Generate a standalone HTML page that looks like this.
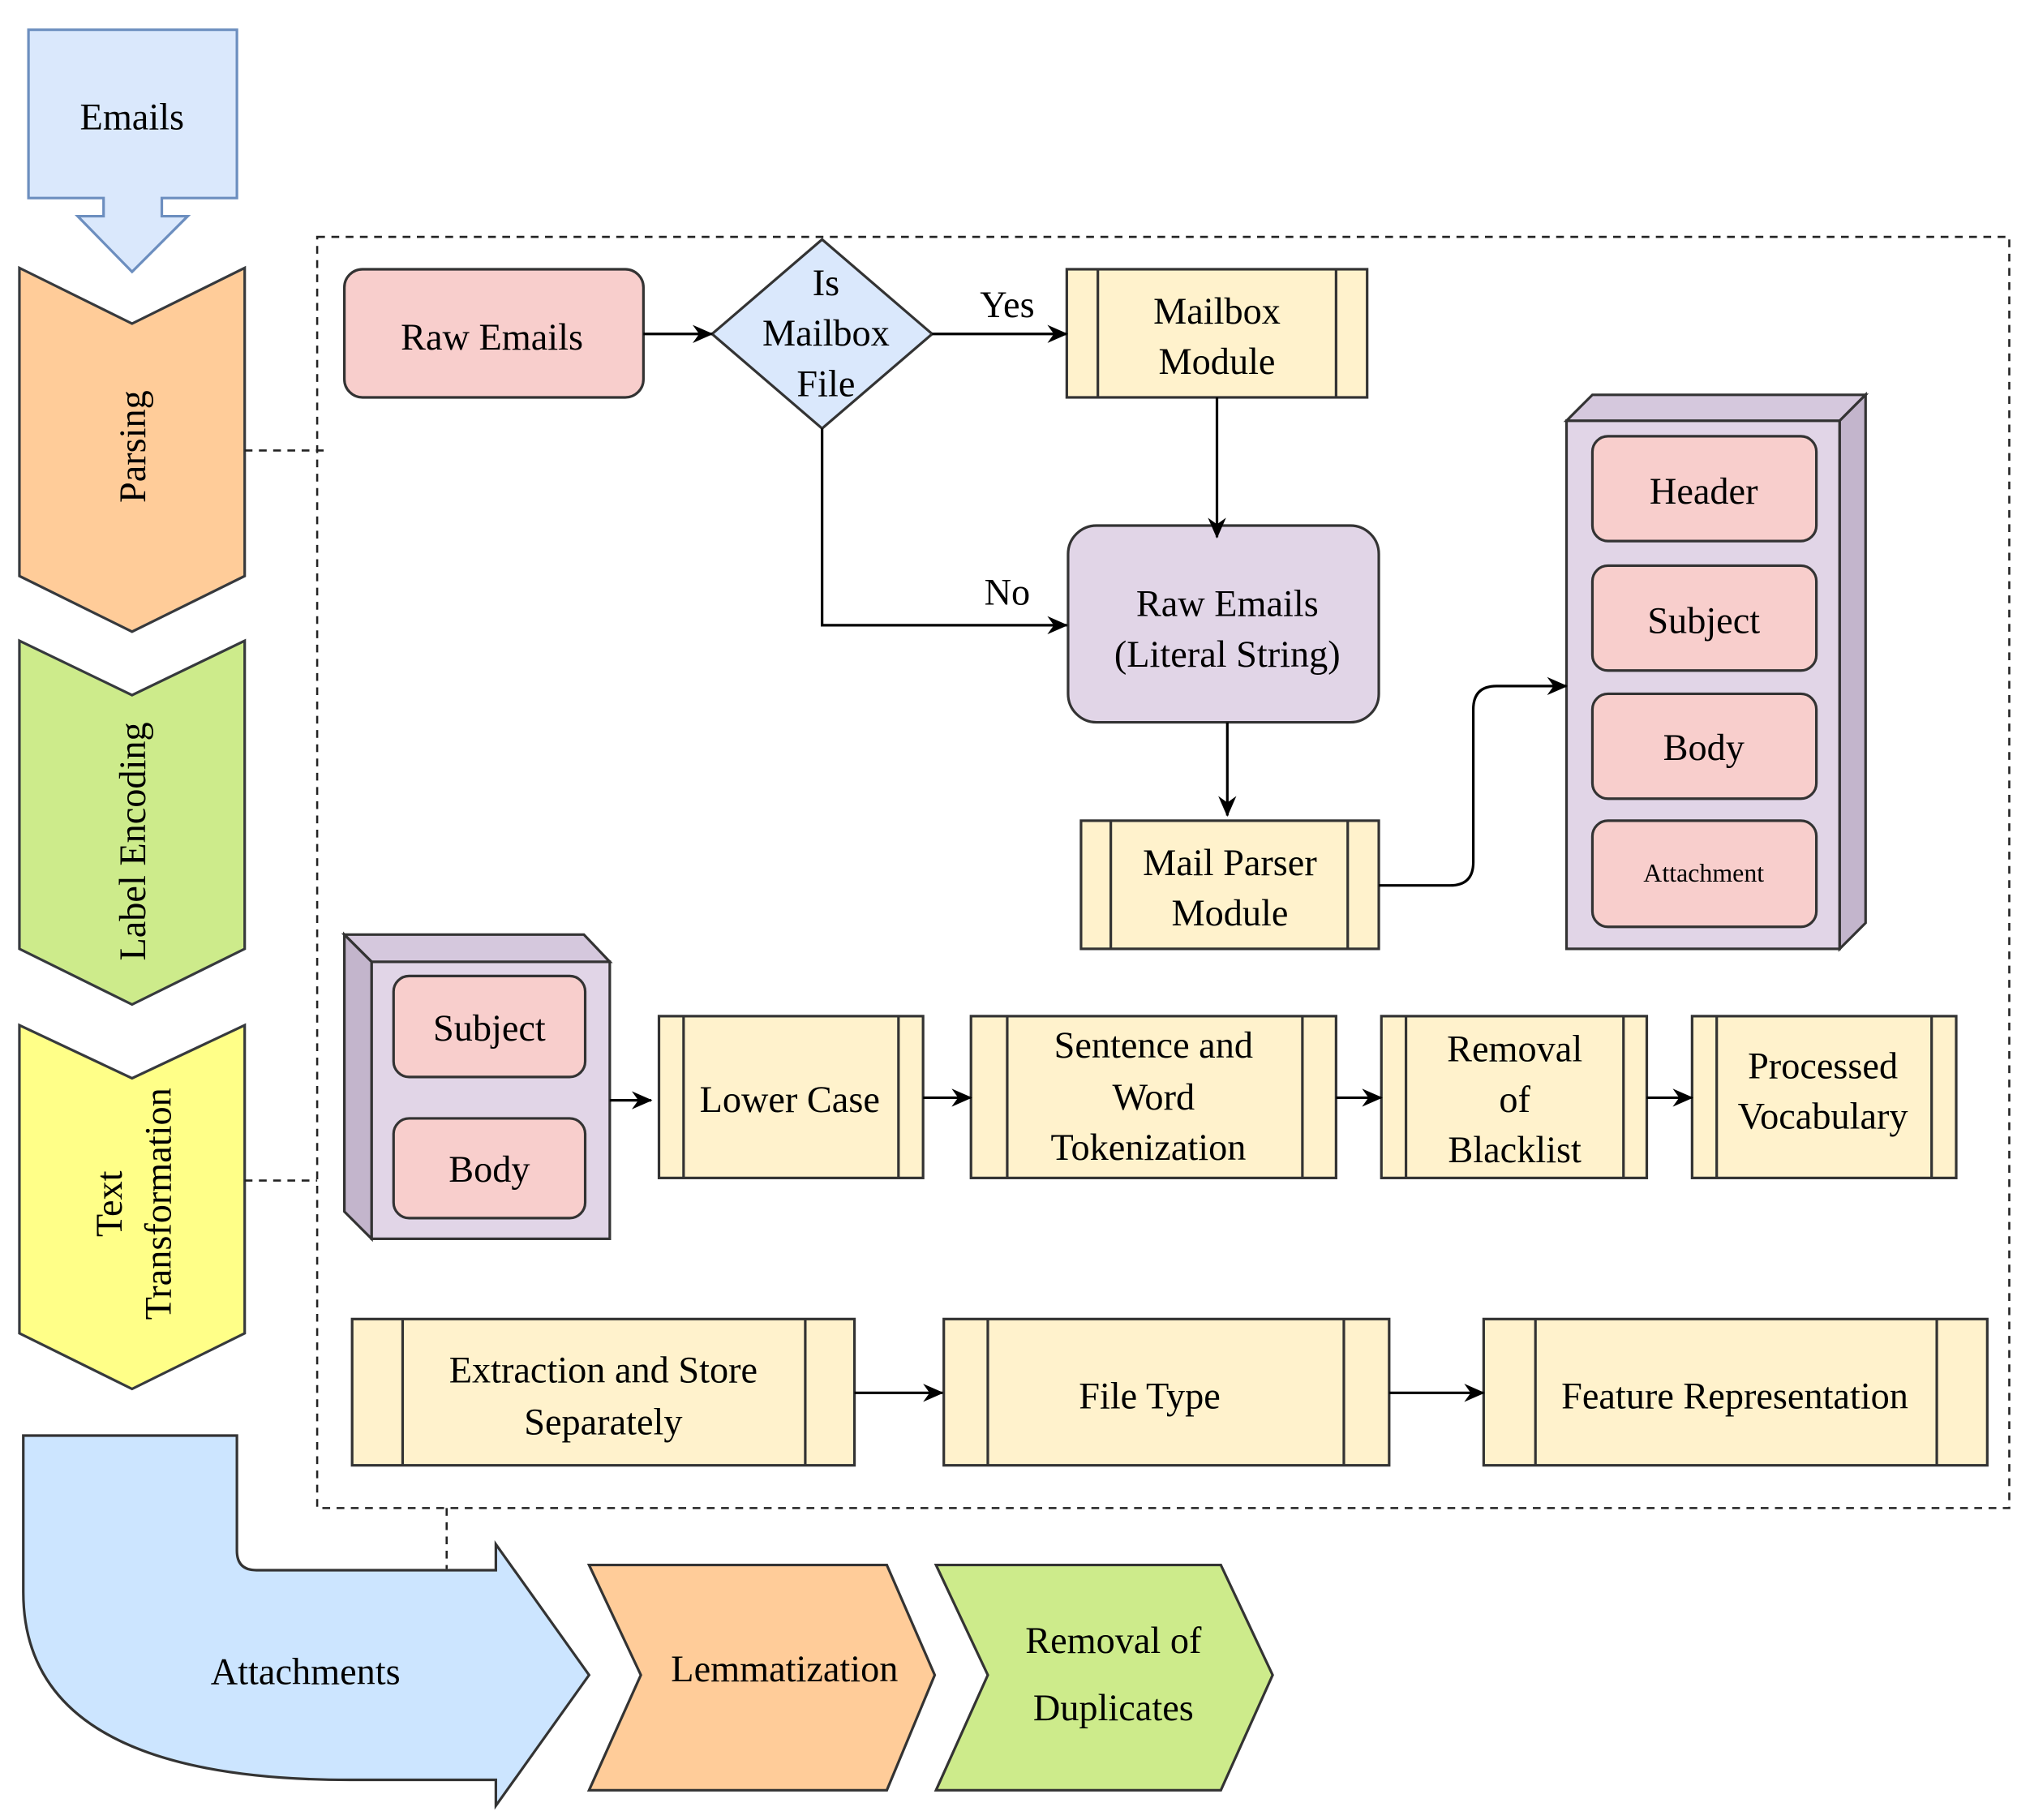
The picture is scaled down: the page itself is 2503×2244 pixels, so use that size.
<!DOCTYPE html>
<html><head><meta charset="utf-8"><style>html,body{margin:0;padding:0;background:#fff}svg{display:block}svg text{font-family:"Liberation Serif","DejaVu Serif",serif}</style></head>
<body>
<svg width="2503" height="2244" viewBox="0 0 1568 1406" preserveAspectRatio="none" xmlns="http://www.w3.org/2000/svg" font-family="'Liberation Serif', serif" font-size="29" text-anchor="middle">
<defs><marker id="a" markerWidth="16" markerHeight="14" refX="15" refY="7" orient="auto" markerUnits="userSpaceOnUse"><path d="M0,0 L16,7 L0,14 L5,7 Z" fill="#000"/></marker></defs>
<g stroke="#36393d" stroke-width="2">
<path d="M22,23 H183 V153 H125 V167 H145 L102,210 L60,167 H80 V153 H22 Z" fill="#dae8fc" stroke="#6c8ebf"/>
<path d="M15,207 L102,250 L189,207 V445 L102,488 L15,445 Z" fill="#ffcc99"/>
<path d="M15,495 L102,537 L189,495 V733 L102,776 L15,733 Z" fill="#cdeb8b"/>
<path d="M15,792 L102,833 L189,792 V1030 L102,1073 L15,1030 Z" fill="#ffff88"/>
</g>
<g fill="none" stroke="#222" stroke-width="1.6" stroke-dasharray="6,5">
<rect x="245" y="183" width="1307" height="982"/>
<path d="M189,348 H252 M189,912 H245 M345,1165 V1212"/>
</g>
<text x="102" y="100">Emails</text>
<text transform="translate(112,345) rotate(-90)">Parsing</text>
<text transform="translate(112,650) rotate(-90)">Label Encoding</text>
<text transform="translate(94,930) rotate(-90)">Text</text>
<text transform="translate(132,930) rotate(-90)">Transformation</text>

<g stroke="#333" stroke-width="2">
<rect x="266" y="208" width="231" height="99" rx="14" fill="#f8cecc"/>
<path d="M635,185 L720,258 L635,331 L550,258 Z" fill="#dae8fc"/>
<rect x="824" y="208" width="232" height="99" fill="#fff2cc"/><path d="M848,208V307M1032,208V307"/>
<rect x="825" y="406" width="240" height="152" rx="22" fill="#e1d5e7"/>
<rect x="835" y="634" width="230" height="99" fill="#fff2cc"/><path d="M858,634V733M1041,634V733"/>
<rect x="1210" y="325" width="211" height="408" fill="#e1d5e7"/>
<path d="M1210,325 L1230,305 H1441 L1421,325 Z" fill="#d5c8dd"/>
<path d="M1421,325 L1441,305 V713 L1421,733 Z" fill="#c3b5cc"/>
<rect x="1230" y="337" width="173" height="81" rx="12" fill="#f8cecc"/>
<rect x="1230" y="437" width="173" height="81" rx="12" fill="#f8cecc"/>
<rect x="1230" y="536" width="173" height="81" rx="12" fill="#f8cecc"/>
<rect x="1230" y="634" width="173" height="82" rx="12" fill="#f8cecc"/>
<rect x="287" y="743" width="184" height="214" fill="#e1d5e7"/>
<path d="M266,722 H451 L471,743 H287 Z" fill="#d5c8dd"/>
<path d="M266,722 L287,743 V957 L266,936 Z" fill="#c3b5cc"/>
<rect x="304" y="754" width="148" height="78" rx="12" fill="#f8cecc"/>
<rect x="304" y="864" width="148" height="77" rx="12" fill="#f8cecc"/>
<rect x="509" y="785" width="204" height="125" fill="#fff2cc"/><path d="M528,785V910M694,785V910"/>
<rect x="750" y="785" width="282" height="125" fill="#fff2cc"/><path d="M778,785V910M1006,785V910"/>
<rect x="1067" y="785" width="205" height="125" fill="#fff2cc"/><path d="M1086,785V910M1254,785V910"/>
<rect x="1307" y="785" width="204" height="125" fill="#fff2cc"/><path d="M1326,785V910M1492,785V910"/>
<rect x="272" y="1019" width="388" height="113" fill="#fff2cc"/><path d="M311,1019V1132M622,1019V1132"/>
<rect x="729" y="1019" width="344" height="113" fill="#fff2cc"/><path d="M763,1019V1132M1038,1019V1132"/>
<rect x="1146" y="1019" width="389" height="113" fill="#fff2cc"/><path d="M1186,1019V1132M1496,1019V1132"/>
<path d="M18,1109 H183 V1198 Q183,1213 198,1213 H383 V1193 L455,1294 L383,1395 V1375 H270 Q18,1375 18,1230 Z" fill="#cce5ff"/>
<path d="M455,1209 H685 L722,1294 L685,1383 H455 L495,1294 Z" fill="#ffcc99"/>
<path d="M723,1209 H943 L983,1294 L943,1383 H723 L763,1294 Z" fill="#cdeb8b"/>
</g>
<g stroke="#000" stroke-width="2" fill="none" marker-end="url(#a)">
<path d="M497,258 H550"/><path d="M720,258 H824"/><path d="M940,307 V415"/>
<path d="M635,331 V483 H824"/><path d="M948,558 V630"/>
<path d="M1065,684 H1120 Q1138,684 1138,666 V548 Q1138,530 1156,530 H1210"/>
<path d="M471,850 H503"/><path d="M713,848 H750"/><path d="M1032,848 H1067"/><path d="M1272,848 H1307"/>
<path d="M660,1076 H728"/><path d="M1073,1076 H1146"/>
</g>
<text x="380" y="270">Raw Emails</text>
<text x="638" y="228">Is</text><text x="638" y="267">Mailbox</text><text x="638" y="306">File</text>
<text x="778" y="245">Yes</text><text x="778" y="467">No</text>
<text x="940" y="250">Mailbox</text><text x="940" y="289">Module</text>
<text x="948" y="476">Raw Emails</text><text x="948" y="515">(Literal String)</text>
<text x="950" y="676">Mail Parser</text><text x="950" y="715">Module</text>
<text x="1316" y="389">Header</text><text x="1316" y="489">Subject</text><text x="1316" y="587">Body</text>
<text x="1316" y="681" font-size="20">Attachment</text>
<text x="378" y="804">Subject</text><text x="378" y="913">Body</text>
<text x="610" y="859">Lower Case</text>
<text x="891" y="817">Sentence and</text><text x="891" y="857">Word</text><text x="887" y="896">Tokenization</text>
<text x="1170" y="820">Removal</text><text x="1170" y="859">of</text><text x="1170" y="898">Blacklist</text>
<text x="1408" y="833">Processed</text><text x="1408" y="872">Vocabulary</text>
<text x="466" y="1068">Extraction and Store</text><text x="466" y="1108">Separately</text>
<text x="888" y="1088">File Type</text>
<text x="1340" y="1088">Feature Representation</text>
<text x="236" y="1301">Attachments</text>
<text x="606" y="1299">Lemmatization</text>
<text x="860" y="1277">Removal of</text><text x="860" y="1329">Duplicates</text>
</svg>
</body></html>
